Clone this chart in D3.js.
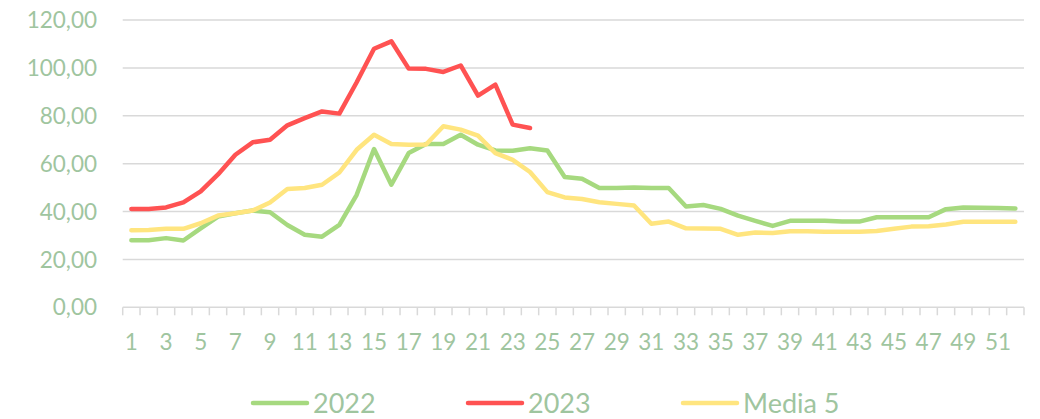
<!DOCTYPE html>
<html>
<head>
<meta charset="utf-8">
<script src="https://cdn.jsdelivr.net/npm/d3@7"></script>
<style>
  body { margin: 0; background: #fff; }
  svg { display: block; font-family: Lato, "Open Sans", sans-serif; }
</style>
</head>
<body>
<svg id="chart"></svg>
<script>
// weeks 1..52
var weeks = [1,2,3,4,5,6,7,8,9,10,11,12,13,14,15,16,17,18,19,20,21,22,23,24,25,26,
  27,28,29,30,31,32,33,34,35,36,37,38,39,40,41,42,43,44,45,46,47,48,49,50,51,52];

var s2022 = [28.0,28.0,28.9,27.9,33.0,37.9,39.3,40.4,39.7,34.4,
  30.3,29.5,34.4,47.0,66.1,51.2,64.4,68.2,68.2,72.1,
  67.9,65.5,65.4,66.4,65.5,54.4,53.7,49.8,49.8,50.0,
  49.8,49.8,42.1,42.7,41.1,38.3,36.1,34.0,36.1,36.1,
  36.2,35.8,35.8,37.6,37.6,37.6,37.6,41.0,41.7,41.6,41.5,41.3];

// 2023 only goes to week 24
var s2023 = [41.1,41.1,41.7,43.8,48.4,55.5,63.7,68.9,70.0,76.0,
  79.0,81.8,80.9,94.0,108.0,111.1,99.7,99.6,98.3,101.0,
  88.4,93.0,76.3,74.9];

var media5 = [32.2,32.3,32.8,32.8,35.1,38.3,39.3,40.4,43.8,49.4,
  49.8,51.2,56.3,65.8,72.1,68.2,67.9,68.0,75.6,74.2,
  71.7,64.4,61.6,56.5,48.1,45.9,45.2,43.9,43.2,42.5,
  34.9,35.8,33.0,32.9,32.8,30.3,31.2,31.0,31.8,31.8,
  31.6,31.6,31.6,31.9,32.8,33.7,33.9,34.6,35.7,35.7,35.7,35.7];

var yTicks = [0,20,40,60,80,100,120];
var xLabels = weeks.filter(function(w) { return w % 2 === 1; });

var seriesNames = ["2022", "2023", "Media 5"];
var seriesColors = ["#a6d97f", "#ff5252", "#ffe57f"];
var seriesData = [s2022, s2023, media5];

var svgWidth = 1040, svgHeight = 419;
var margin = { left: 122.7, right: 1024, top: 20, bottom: 307.3 };
var textColor = "#9fc59f", gridColor = "#d9d9d9";

var svg = d3.select("#chart")
  .attr("width", svgWidth)
  .attr("height", svgHeight);

var x = d3.scaleBand().domain(weeks).range([margin.left, margin.right]).padding(0);
var y = d3.scaleLinear().domain([0, 120]).range([margin.bottom, margin.top]);

// horizontal grid lines
svg.append("g")
  .selectAll("line")
  .data(yTicks)
  .enter().append("line")
  .attr("x1", margin.left)
  .attr("x2", margin.right)
  .attr("y1", function(d) { return y(d); })
  .attr("y2", function(d) { return y(d); })
  .attr("stroke", gridColor)
  .attr("stroke-width", 1.5);

// y labels
svg.append("g")
  .selectAll("text")
  .data(yTicks)
  .enter().append("text")
  .attr("x", 97)
  .attr("y", function(d) { return y(d); })
  .attr("dy", "0.36em")
  .attr("text-anchor", "end")
  .attr("fill", textColor)
  .attr("font-size", "22.5px")
  .text(function(d) { return d3.format(".2f")(d).replace(".", ","); });

// category boundary ticks
var edges = weeks.map(function(w) { return x(w); }).concat([margin.right]);
svg.append("g")
  .selectAll("line")
  .data(edges)
  .enter().append("line")
  .attr("x1", function(d) { return d; })
  .attr("x2", function(d) { return d; })
  .attr("y1", margin.bottom)
  .attr("y2", margin.bottom + 8)
  .attr("stroke", gridColor)
  .attr("stroke-width", 1.5);

// x labels (every other week)
var xAxis = svg.append("g")
  .attr("transform", "translate(0," + margin.bottom + ")")
  .call(d3.axisBottom(x).tickValues(xLabels).tickSize(0).tickPadding(0));
xAxis.select(".domain").remove();
xAxis.selectAll("text")
  .attr("y", 43)
  .attr("dy", 0)
  .attr("fill", textColor)
  .attr("font-size", "22.5px")
  .attr("font-family", "Lato, 'Open Sans', sans-serif");

// lines
var line = d3.line()
  .x(function(d, i) { return x(weeks[i]) + x.bandwidth() / 2; })
  .y(function(d) { return y(d); });

seriesData.forEach(function(s, i) {
  svg.append("path")
    .datum(s)
    .attr("fill", "none")
    .attr("stroke", seriesColors[i])
    .attr("stroke-width", 4.5)
    .attr("stroke-linejoin", "round")
    .attr("stroke-linecap", "round")
    .attr("d", line);
});

// legend
var legend = svg.append("g")
  .selectAll("g")
  .data(seriesNames)
  .enter().append("g")
  .attr("transform", function(d, i) { return "translate(" + (253 + i * 215) + ",403)"; });

legend.append("line")
  .attr("x1", 0)
  .attr("x2", 54)
  .attr("stroke", function(d, i) { return seriesColors[i]; })
  .attr("stroke-width", 4.5)
  .attr("stroke-linecap", "round");

legend.append("text")
  .attr("x", 60)
  .attr("dy", "0.36em")
  .attr("fill", textColor)
  .attr("font-size", "27px")
  .text(function(d) { return d; });
</script>
</body>
</html>
